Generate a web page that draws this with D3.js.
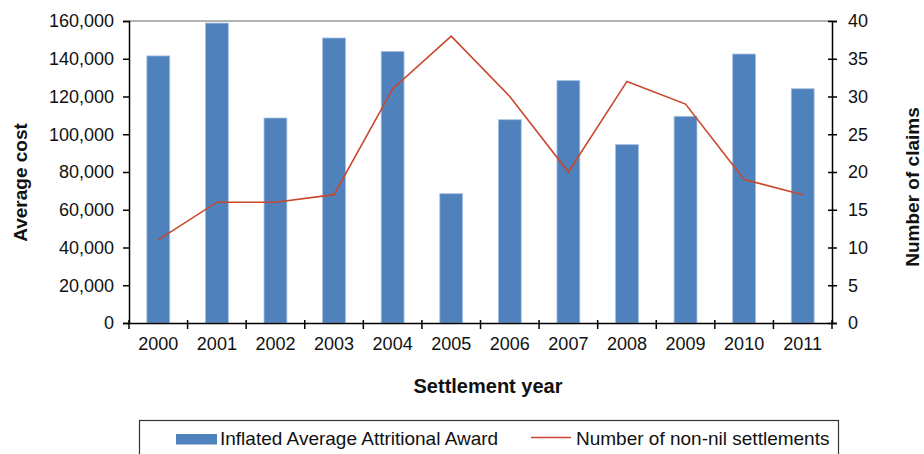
<!DOCTYPE html>
<html>
<head>
<meta charset="utf-8">
<script src="https://cdn.jsdelivr.net/npm/d3@7"></script>
<style>
  html, body { margin: 0; padding: 0; background: #fff; }
  svg { display: block; font-family: "Liberation Sans", Arial, sans-serif; }
</style>
</head>
<body>
<svg id="chart" width="924" height="454"></svg>
<script>
// Settlement years and the two series plotted against them
const years = ["2000","2001","2002","2003","2004","2005","2006","2007","2008","2009","2010","2011"];
const averageAward = [141500, 158900, 108600, 151000, 143900, 68500, 107700, 128400, 94500, 109500, 142500, 124100];
const nonNilSettlements = [11, 16, 16, 17, 31, 38, 30, 20, 32, 29, 19, 17];
const costTicks = [0, 20000, 40000, 60000, 80000, 100000, 120000, 140000, 160000];
const claimTicks = [0, 5, 10, 15, 20, 25, 30, 35, 40];

const barLabel = "Inflated Average Attritional Award";
const lineLabel = "Number of non-nil settlements";

const svg = d3.select("#chart");
const plot = { left: 129, right: 832, top: 21, bottom: 323 };

const x = d3.scaleBand()
  .domain(years)
  .range([plot.left, plot.right])
  .paddingInner(0.61)
  .paddingOuter(0.305);
const yCost = d3.scaleLinear().domain([0, 160000]).range([plot.bottom, plot.top]);
const yClaims = d3.scaleLinear().domain([0, 40]).range([plot.bottom, plot.top]);

const BAR = "#4F81BD", LINE = "#C9472C";

// plot-area top border
svg.append("line")
  .attr("x1", plot.left).attr("x2", plot.right)
  .attr("y1", plot.top).attr("y2", plot.top)
  .attr("stroke", "#9a9a9a").attr("stroke-width", 1.5);

// bars
svg.append("g").selectAll("rect")
  .data(years)
  .join("rect")
  .attr("x", d => x(d))
  .attr("width", x.bandwidth())
  .attr("y", (d, i) => yCost(averageAward[i]))
  .attr("height", (d, i) => plot.bottom - yCost(averageAward[i]))
  .attr("fill", BAR)
  .attr("stroke", "#a9bfe0")
  .attr("stroke-width", 0.8);

// claims line
const line = d3.line()
  .x((d, i) => x(years[i]) + x.bandwidth() / 2)
  .y(d => yClaims(d));
svg.append("path")
  .datum(nonNilSettlements)
  .attr("d", line)
  .attr("fill", "none")
  .attr("stroke", LINE)
  .attr("stroke-width", 1.6);

const fmt = d3.format(",");

// left axis
const leftAxis = svg.append("g")
  .attr("transform", `translate(${plot.left},0)`)
  .call(d3.axisLeft(yCost).tickValues(costTicks).tickFormat(fmt).tickSize(6).tickPadding(9));
leftAxis.select(".domain").attr("stroke", "#000").attr("stroke-width", 1.5);
leftAxis.selectAll(".tick line").attr("stroke", "#000").attr("stroke-width", 1.5);
leftAxis.selectAll("text").attr("font-size", 18).attr("fill", "#111").attr("font-family", "Liberation Sans, Arial, sans-serif");

// right axis (ticks cross the axis line)
const rightAxis = svg.append("g")
  .attr("transform", `translate(${plot.right},0)`)
  .call(d3.axisRight(yClaims).tickValues(claimTicks).tickSize(5).tickPadding(11));
rightAxis.select(".domain").attr("stroke", "#000").attr("stroke-width", 1.5);
rightAxis.selectAll(".tick line").attr("x1", -4).attr("stroke", "#000").attr("stroke-width", 1.5);
rightAxis.selectAll("text").attr("font-size", 18).attr("fill", "#111").attr("font-family", "Liberation Sans, Arial, sans-serif");

// bottom axis: year labels under each band
const bottomAxis = svg.append("g")
  .attr("transform", `translate(0,${plot.bottom})`)
  .call(d3.axisBottom(x).tickSize(0).tickPadding(14));
bottomAxis.select(".domain").attr("stroke", "#000").attr("stroke-width", 1.5);
bottomAxis.selectAll("text").attr("font-size", 18).attr("fill", "#111").attr("font-family", "Liberation Sans, Arial, sans-serif");

// bottom axis: boundary ticks between bands
const boundary = d3.scaleLinear().domain([0, years.length]).range([plot.left, plot.right]);
svg.append("g").selectAll("line")
  .data(d3.range(years.length + 1))
  .join("line")
  .attr("x1", d => boundary(d)).attr("x2", d => boundary(d))
  .attr("y1", plot.bottom - 3).attr("y2", plot.bottom + 6)
  .attr("stroke", "#000").attr("stroke-width", 1.5);

// axis titles
svg.append("text")
  .attr("transform", "translate(27,182.5) rotate(-90)")
  .attr("text-anchor", "middle")
  .attr("font-size", 19).attr("font-weight", "bold").attr("fill", "#111")
  .text("Average cost");
svg.append("text")
  .attr("transform", "translate(919,187) rotate(-90)")
  .attr("text-anchor", "middle")
  .attr("font-size", 19).attr("font-weight", "bold").attr("fill", "#111")
  .text("Number of claims");
svg.append("text")
  .attr("x", 488).attr("y", 393)
  .attr("text-anchor", "middle")
  .attr("font-size", 20).attr("font-weight", "bold").attr("fill", "#111")
  .text("Settlement year");

// legend
const legend = svg.append("g");
legend.append("rect")
  .attr("x", 139.5).attr("y", 420.5).attr("width", 699).attr("height", 50)
  .attr("fill", "#fff").attr("stroke", "#333").attr("stroke-width", 1.2);
legend.append("rect")
  .attr("x", 176).attr("y", 434).attr("width", 41).attr("height", 10.5)
  .attr("fill", BAR);
legend.append("text")
  .attr("x", 220).attr("y", 445)
  .attr("font-size", 19).attr("fill", "#111")
  .text(barLabel);
legend.append("line")
  .attr("x1", 531).attr("x2", 571).attr("y1", 437.5).attr("y2", 437.5)
  .attr("stroke", LINE).attr("stroke-width", 1.6);
legend.append("text")
  .attr("x", 576).attr("y", 445)
  .attr("font-size", 19).attr("fill", "#111")
  .text(lineLabel);
</script>
</body>
</html>
